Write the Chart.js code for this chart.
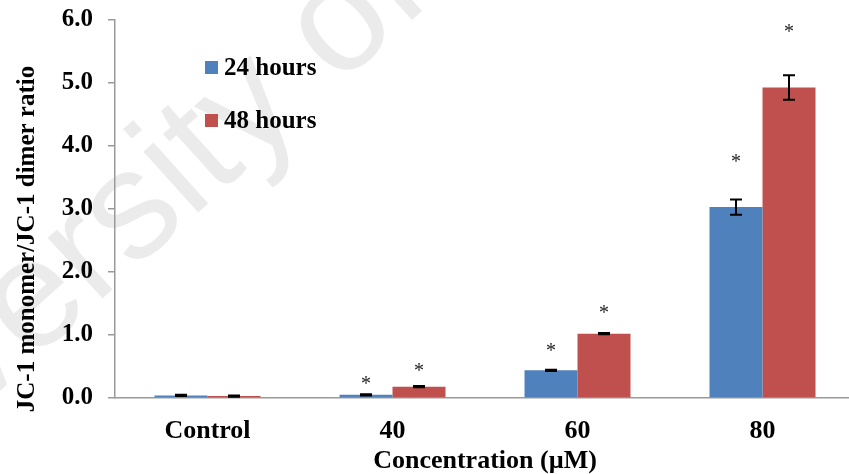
<!DOCTYPE html>
<html>
<head>
<meta charset="utf-8">
<script src="https://cdn.jsdelivr.net/npm/chart.js@4.4.1/dist/chart.umd.min.js"></script>
<style>
  html, body { margin: 0; padding: 0; background: #fff; overflow: hidden; }
  #wrap { width: 855px; height: 474px; }
</style>
</head>
<body>
<div id="wrap"><canvas id="jc1Ratio"></canvas></div>
<script>
const concentrations = ['Control', '40', '60', '80'];
const seriesNames = ['24 hours', '48 hours'];
const seriesColors = ['#4F81BD', '#C0504D'];
const ratio24h = [0.04, 0.05, 0.44, 3.03];
const ratio48h = [0.03, 0.18, 1.02, 4.93];
const err24h = [0.01, 0.01, 0.01, 0.12];
const err48h = [0.01, 0.01, 0.01, 0.195];
// ratio level where each significance star is placed (null = no star)
const star24h = [null, 0.29, 0.81, 3.81];
const star48h = [null, 0.50, 1.41, 5.87];
const yTicks = [0, 1, 2, 3, 4, 5, 6];

const SERIF = '"Liberation Serif", "Times New Roman", serif';
const errors = [err24h, err48h];
const stars = [star24h, star48h];

const watermark = {
    id: 'watermark',
    beforeDraw(chart) {
        const ctx = chart.ctx;
        ctx.save();
        ctx.translate(-200, 571);
        ctx.rotate(-42 * Math.PI / 180);
        ctx.font = '155px "Liberation Sans", Arial, sans-serif';
        ctx.fillStyle = 'rgba(0,0,0,0.08)';
        ctx.textBaseline = 'alphabetic';
        ctx.fillText('University of', 0, 0);
        ctx.restore();
    }
};

const errorBars = {
    id: 'errorBars',
    afterDatasetsDraw(chart) {
        const ctx = chart.ctx;
        const y = chart.scales.y;
        ctx.save();
        ctx.strokeStyle = '#000';
        ctx.lineWidth = 2;
        chart.data.datasets.forEach((ds, i) => {
            chart.getDatasetMeta(i).data.forEach((bar, j) => {
                const v = ds.data[j], e = errors[i][j];
                const top = y.getPixelForValue(v + e);
                const bot = y.getPixelForValue(v - e);
                ctx.beginPath();
                ctx.moveTo(bar.x, top); ctx.lineTo(bar.x, bot);
                ctx.moveTo(bar.x - 6, top); ctx.lineTo(bar.x + 6, top);
                ctx.moveTo(bar.x - 6, bot); ctx.lineTo(bar.x + 6, bot);
                ctx.stroke();
            });
        });
        ctx.restore();
    }
};

const sigStars = {
    id: 'sigStars',
    afterDatasetsDraw(chart) {
        const ctx = chart.ctx;
        const y = chart.scales.y;
        ctx.save();
        ctx.font = '20px ' + SERIF;
        ctx.fillStyle = '#222';
        ctx.textAlign = 'center';
        ctx.textBaseline = 'alphabetic';
        chart.data.datasets.forEach((ds, i) => {
            chart.getDatasetMeta(i).data.forEach((bar, j) => {
                const s = stars[i][j];
                if (s == null) return;
                ctx.fillText('*', bar.x, y.getPixelForValue(s) + 10);
            });
        });
        ctx.restore();
    }
};

const sideLegend = {
    id: 'sideLegend',
    afterDraw(chart) {
        const ctx = chart.ctx;
        ctx.save();
        ctx.font = 'bold 25px ' + SERIF;
        ctx.textBaseline = 'middle';
        ctx.textAlign = 'left';
        chart.data.datasets.forEach((ds, i) => {
            const cy = 68 + i * 53;
            ctx.fillStyle = ds.backgroundColor;
            ctx.fillRect(205, cy - 7, 13, 13);
            ctx.fillStyle = '#000';
            ctx.fillText(ds.label, 224, cy + 1);
        });
        ctx.restore();
    }
};

const yTitle = {
    id: 'yTitle',
    afterDraw(chart) {
        const ctx = chart.ctx;
        ctx.save();
        ctx.translate(28, 239);
        ctx.rotate(-Math.PI / 2);
        ctx.font = 'bold 25px ' + SERIF;
        ctx.fillStyle = '#000';
        ctx.textAlign = 'center';
        ctx.textBaseline = 'middle';
        ctx.fillText('JC-1 monomer/JC-1 dimer ratio', 0, 0);
        ctx.restore();
    }
};

new Chart(document.getElementById('jc1Ratio'), {
    type: 'bar',
    data: {
        labels: concentrations,
        datasets: [
            { label: seriesNames[0], data: ratio24h, backgroundColor: seriesColors[0] },
            { label: seriesNames[1], data: ratio48h, backgroundColor: seriesColors[1] }
        ]
    },
    options: {
        responsive: true,
        maintainAspectRatio: false,
        animation: false,
        layout: { padding: { top: 20, right: 0, left: 0, bottom: 0 } },
        datasets: { bar: { categoryPercentage: 0.573, barPercentage: 1.0 } },
        plugins: { legend: { display: false }, tooltip: { enabled: false } },
        scales: {
            x: {
                grid: { display: false },
                border: { color: '#9a9a9a', width: 1.5 },
                ticks: { color: '#000', padding: 10, font: { family: SERIF, size: 26, weight: 'bold' } },
                title: {
                    display: true,
                    text: 'Concentration (\u00b5M)',
                    color: '#000',
                    padding: 0,
                    font: { family: SERIF, size: 26, weight: 'bold', lineHeight: 1 }
                },
                afterFit(scale) {
                    scale.height = 76;
                    scale.paddingLeft = 0;
                    scale.paddingRight = 0;
                }
            },
            y: {
                min: 0,
                max: 6,
                afterBuildTicks(scale) { scale.ticks = yTicks.map(v => ({ value: v })); },
                grid: { drawOnChartArea: false, drawTicks: true, tickLength: 7, color: '#9a9a9a', lineWidth: 1.5 },
                border: { color: '#9a9a9a', width: 1.5 },
                ticks: {
                    color: '#000',
                    padding: 15,
                    font: { family: SERIF, size: 25, weight: 'bold' },
                    callback: v => v.toFixed(1)
                },
                afterFit(scale) {
                    scale.width = 115;
                    scale.paddingTop = 0;
                    scale.paddingBottom = 0;
                }
            }
        }
    },
    plugins: [watermark, errorBars, sigStars, sideLegend, yTitle]
});
</script>
</body>
</html>
